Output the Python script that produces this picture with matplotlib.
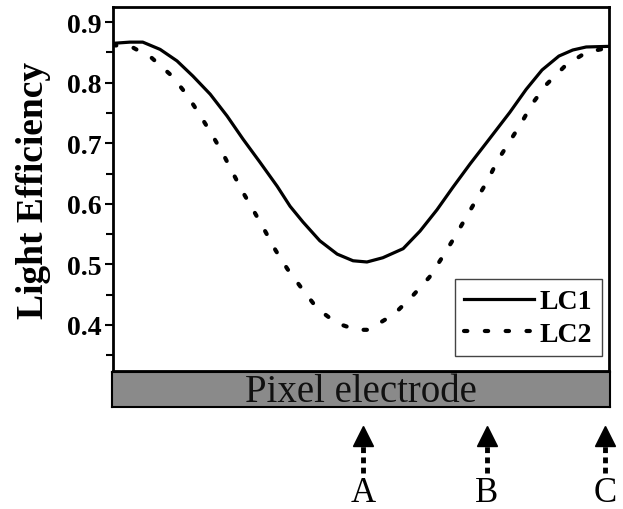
import matplotlib.pyplot as plt
import matplotlib.transforms as mtransforms
from matplotlib.ticker import MultipleLocator

# position across the pixel (arbitrary units, 0-100)
lc1_x = [0, 3.4, 6.0, 9.5, 12.9, 16.1, 19.6, 23.0, 26.2, 29.6, 33.1, 35.7, 38.3,
         41.7, 45.2, 48.4, 51.2, 54.4, 58.5, 61.9, 65.3, 68.5, 72.0, 75.4, 80.0,
         83.3, 86.5, 89.9, 92.7, 95.4, 100]
lc1_y = [0.865, 0.867, 0.867, 0.855, 0.836, 0.811, 0.781, 0.745, 0.707, 0.669,
         0.629, 0.596, 0.570, 0.539, 0.517, 0.506, 0.504, 0.511, 0.526, 0.555,
         0.590, 0.627, 0.666, 0.702, 0.751, 0.789, 0.821, 0.844, 0.854, 0.859,
         0.860]

lc2_x = [0, 3.8, 7.8, 11.9, 14.9, 17.5, 19.9, 22.1, 24.1, 26.2, 28.4, 30.6, 32.8,
         35.2, 38.0, 41.2, 45.1, 49.1, 51.5, 56.7, 60.4, 63.8, 66.4, 68.8, 71.0,
         73.2, 75.5, 77.5, 79.9, 82.3, 84.5, 87.5, 91.3, 95.4, 100]
lc2_y = [0.862, 0.859, 0.841, 0.811, 0.780, 0.747, 0.715, 0.684, 0.652, 0.619,
         0.588, 0.556, 0.523, 0.492, 0.461, 0.427, 0.403, 0.392, 0.392, 0.418,
         0.448, 0.479, 0.512, 0.544, 0.575, 0.606, 0.638, 0.671, 0.702, 0.733,
         0.765, 0.798, 0.829, 0.850, 0.858]

marks = ['A', 'B', 'C']
mark_x = [50.4, 75.4, 99.2]

serif = ['Liberation Serif', 'DejaVu Serif']

fig = plt.figure(figsize=(6.23, 5.10), dpi=100)
ax = fig.add_axes([113 / 623, 138 / 510, 496 / 623, 364 / 510])

ax.plot(lc1_x, lc1_y, color='black', lw=2.3, label='LC1')
ax.plot(lc2_x, lc2_y, color='black', lw=3, linestyle=(0, (0.8, 4.2)),
        dash_capstyle='round', label='LC2')

ax.set_xlim(0, 100)
ax.set_ylim(0.324, 0.925)
ax.yaxis.set_major_locator(MultipleLocator(0.1))
ax.yaxis.set_minor_locator(MultipleLocator(0.05))
ax.set_xticks([])
ax.tick_params(axis='y', which='major', direction='out', length=6, width=1.5,
               labelsize=20, pad=2)
ax.tick_params(axis='y', which='minor', direction='out', length=5, width=1.5)
for lbl in ax.get_yticklabels():
    lbl.set_fontfamily(serif)
    lbl.set_fontweight('bold')
for s in ax.spines.values():
    s.set_linewidth(2)

ax.set_ylabel('Light Efficiency', fontsize=27, fontweight='bold',
              family=serif, labelpad=12)

leg = ax.legend(loc='lower right', bbox_to_anchor=(0.985, 0.04),
                prop={'family': serif, 'weight': 'bold', 'size': 20},
                frameon=True, fancybox=False, framealpha=1, edgecolor='#444444',
                handlelength=2.5, handletextpad=0.2, borderpad=0.35,
                labelspacing=0.25, borderaxespad=0)
leg.get_frame().set_linewidth(1)

# pixel electrode bar
bar = fig.add_axes([112 / 623, 102 / 510, 498 / 623, 35 / 510])
bar.set_facecolor('#8a8a8a')
bar.set_xticks([])
bar.set_yticks([])
for s in bar.spines.values():
    s.set_linewidth(1.5)
bar.text(0.5, 0.45, 'Pixel electrode', ha='center', va='center',
         fontsize=28, family=serif, color='#111111', transform=bar.transAxes)

# position markers below the bar
trans = mtransforms.blended_transform_factory(ax.transData, ax.transAxes)
for m, xm in zip(marks, mark_x):
    ax.plot([xm, xm], [-0.280, -0.195], transform=trans, clip_on=False,
            color='black', lw=3.5, linestyle=(0, (1.2, 0.9)))
    ax.plot([xm], [-0.178], transform=trans, clip_on=False, marker='^',
            ms=15, color='black', mec='black')
    ax.text(xm, -0.358, m, transform=trans, ha='center', va='baseline',
            fontsize=25, family=serif)

fig.savefig('out.png', dpi=100)
